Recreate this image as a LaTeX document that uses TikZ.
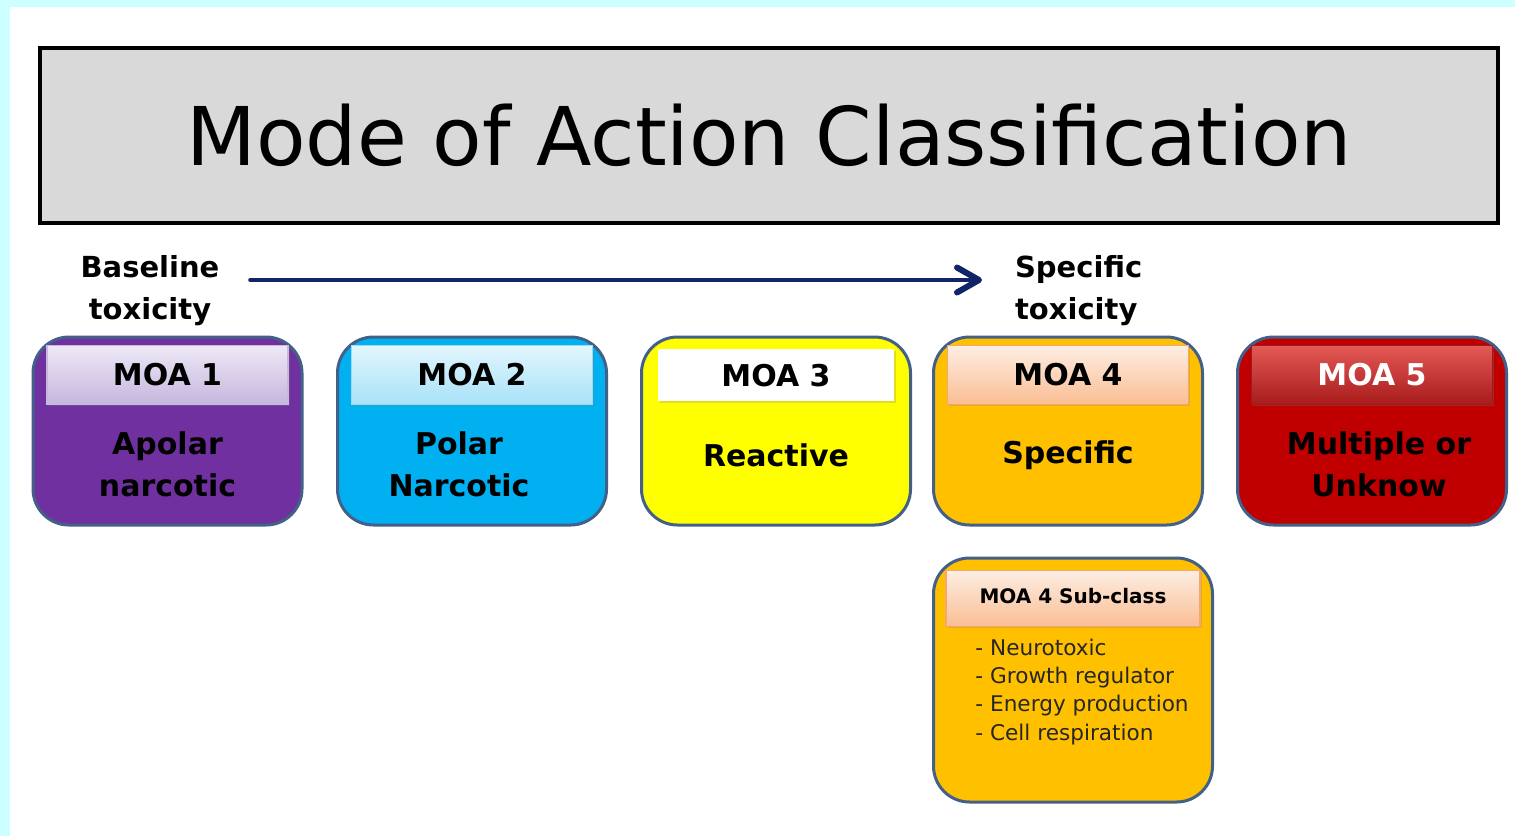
\documentclass[tikz,border=0pt]{standalone}
\usepackage{fontspec}
\setmainfont{DejaVu Sans}
\usetikzlibrary{positioning, calc, arrows.meta, shadows}

\definecolor{bgcyan}{RGB}{204,255,255}
\definecolor{titlegray}{RGB}{217,217,217}
\definecolor{edgeblue}{RGB}{66,96,136}
\definecolor{arrownavy}{RGB}{16,36,102}
\definecolor{moapurple}{RGB}{112,48,160}
\definecolor{moablue}{RGB}{0,176,240}
\definecolor{moayellow}{RGB}{255,255,0}
\definecolor{moaorange}{RGB}{255,192,0}
\definecolor{moared}{RGB}{192,0,0}

\begin{document}
\begin{tikzpicture}[x=0.5pt, y=-0.5pt,
	moabox/.style={rectangle, rounded corners=18pt, draw=edgeblue, line width=1.5pt, minimum width=134.5pt, minimum height=94pt, inner sep=0pt},
	moahead/.style={rectangle, minimum width=120.5pt, minimum height=29.5pt, inner sep=0pt, line width=0.6pt, font=\fontsize{15}{18}\selectfont\bfseries, drop shadow={opacity=0.25, shadow xshift=0.8pt, shadow yshift=-0.8pt}},
	moatext/.style={align=center, font=\fontsize{15}{21}\selectfont\bfseries},
	toxlabel/.style={align=center, font=\fontsize{14.5}{21}\selectfont\bfseries},
	navyarrow/.style={draw=arrownavy, line width=2.3pt, line cap=round, -{Straight Barb[length=11pt, width=12.5pt, line width=3pt, line cap=round, line join=round]}}]
	\fill[bgcyan] (0,0) rectangle (1515,836);
	\fill[white] (10,7) rectangle (1515,836);

	\node[draw, line width=2pt, fill=titlegray, minimum width=729pt, minimum height=87.5pt, font=\fontsize{40.5}{48}\selectfont, drop shadow={opacity=0.3, shadow xshift=1.2pt, shadow yshift=-1.2pt}] (title) at (769,135.5) {Mode of Action Classification};

	\node[toxlabel] (base) at (150,291) {Baseline\\toxicity};
	\node[toxlabel, align=left, anchor=west] (spec) at (1008,291) {Specific\\toxicity};
	\draw[navyarrow] ([xshift=12pt, yshift=5.5pt]base.east) -- ([xshift=-13pt, yshift=5.5pt]spec.west);

	\node[moabox, fill=moapurple] (moa1) at (167.5,431) {};
	\node[moahead, draw={rgb,255:red,200;green,184;blue,222}, top color={rgb,255:red,238;green,233;blue,246}, bottom color={rgb,255:red,198;green,182;blue,222}, below=4.5pt of moa1.north] (head1) {MOA 1};
	\node[moatext] (body1) at ([yshift=-16.5pt]moa1.center) {Apolar\\narcotic};

	\node[moabox, fill=moablue] (moa2) at (472,431) {};
	\node[moahead, draw={rgb,255:red,160;green,218;blue,240}, top color={rgb,255:red,226;green,246;blue,253}, bottom color={rgb,255:red,168;green,226;blue,248}, below=4.5pt of moa2.north] (head2) {MOA 2};
	\node[moatext] (body2) at ([xshift=-6.5pt, yshift=-16.5pt]moa2.center) {Polar\\Narcotic};

	\node[moabox, fill=moayellow] (moa3) at (776,431) {};
	\node[moahead, fill=white, minimum width=118pt, minimum height=26pt, drop shadow={opacity=0}, below=6.5pt of moa3.north] (head3) {MOA 3};
	\node[moatext] (body3) at ([yshift=-12pt]moa3.center) {Reactive};

	\node[moabox, fill=moaorange] (moa4) at (1068,431) {};
	\node[moahead, draw={rgb,255:red,246;green,166;blue,110}, top color={rgb,255:red,253;green,238;blue,228}, bottom color={rgb,255:red,250;green,190;blue,148}, below=4.5pt of moa4.north] (head4) {MOA 4};
	\node[moatext] (body4) at ([yshift=-12pt]moa4.center) {Specific};

	\node[moabox, fill=moared] (moa5) at (1372,431) {};
	\node[moahead, text=white, draw={rgb,255:red,150;green,30;blue,30}, top color={rgb,255:red,228;green,90;blue,86}, bottom color={rgb,255:red,168;green,28;blue,28}, below=4.5pt of moa5.north] (head5) {MOA 5};
	\node[moatext] (body5) at ([xshift=3.5pt, yshift=-16.5pt]moa5.center) {Multiple or\\Unknow};

	\node[moabox, fill=moaorange, minimum width=139.5pt, minimum height=122pt, below right=15pt and 0pt of moa4.south west] (sub) {};
	\node[moahead, draw={rgb,255:red,246;green,166;blue,110}, top color={rgb,255:red,253;green,238;blue,228}, bottom color={rgb,255:red,250;green,190;blue,148}, minimum width=127pt, minimum height=28pt, font=\fontsize{10}{12}\selectfont\bfseries, below=6.5pt of sub.north] (subhead) {\raisebox{2.5pt}{MOA 4 Sub-class}};
	\node[align=left, anchor=north west, text=black!85, font=\fontsize{10.8}{14.2}\selectfont, below right=2.5pt and 11.5pt of subhead.south west] (sublist) {- Neurotoxic\\- Growth regulator\\- Energy production\\- Cell respiration};
\end{tikzpicture}
\end{document}
